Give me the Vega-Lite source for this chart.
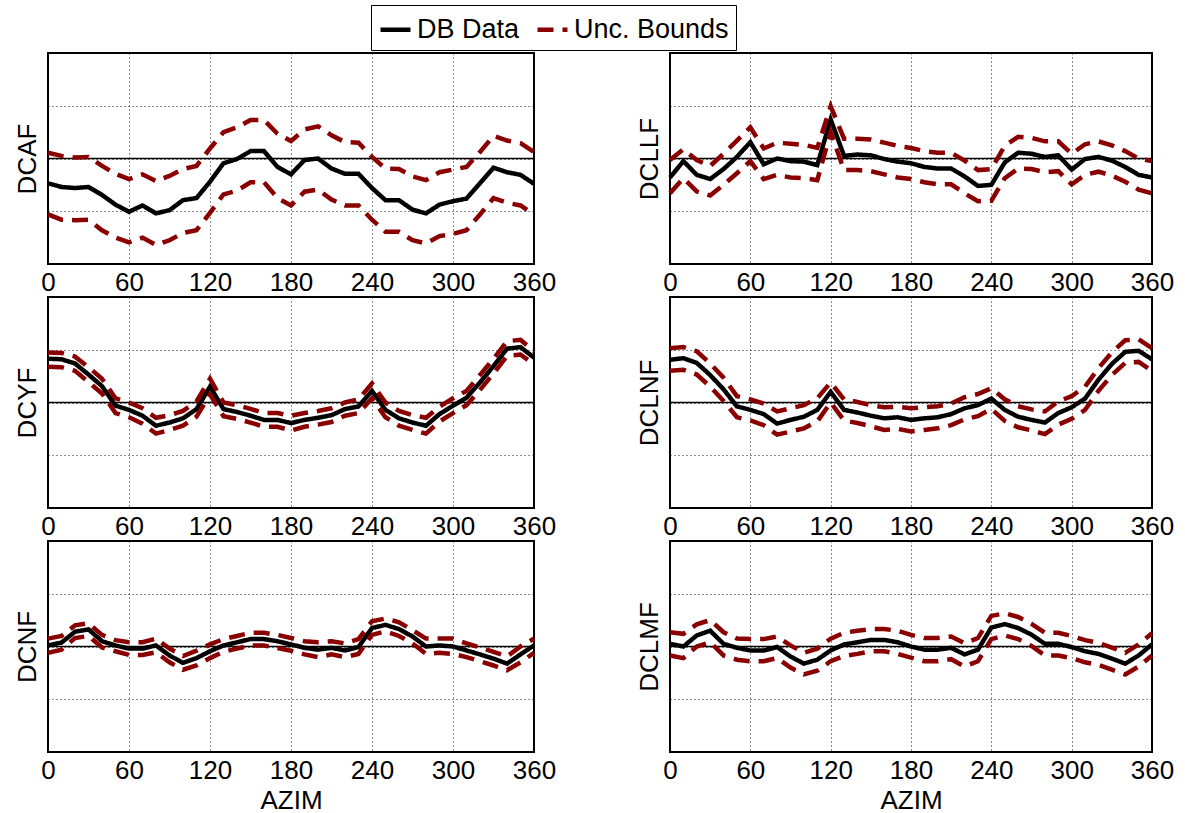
{
"$schema": "https://vega.github.io/schema/vega-lite/v6.json",
"padding": {"left": 13, "top": 4, "right": 5, "bottom": 3},
"data": {"values": [
{"coef":"DCAF","azim":0,"db":-0.47,"up":0.11,"lo":-1.06},
{"coef":"DCAF","azim":10,"db":-0.54,"up":0.05,"lo":-1.16},
{"coef":"DCAF","azim":20,"db":-0.56,"up":0.02,"lo":-1.17},
{"coef":"DCAF","azim":30,"db":-0.54,"up":0.03,"lo":-1.16},
{"coef":"DCAF","azim":40,"db":-0.69,"up":-0.14,"lo":-1.36},
{"coef":"DCAF","azim":50,"db":-0.875,"up":-0.29,"lo":-1.5},
{"coef":"DCAF","azim":60,"db":-1.01,"up":-0.39,"lo":-1.59},
{"coef":"DCAF","azim":70,"db":-0.89,"up":-0.3,"lo":-1.5},
{"coef":"DCAF","azim":80,"db":-1.04,"up":-0.43,"lo":-1.64},
{"coef":"DCAF","azim":90,"db":-0.98,"up":-0.33,"lo":-1.55},
{"coef":"DCAF","azim":100,"db":-0.79,"up":-0.2,"lo":-1.41},
{"coef":"DCAF","azim":110,"db":-0.75,"up":-0.14,"lo":-1.36},
{"coef":"DCAF","azim":120,"db":-0.44,"up":0.19,"lo":-1.03},
{"coef":"DCAF","azim":130,"db":-0.09,"up":0.5,"lo":-0.68},
{"coef":"DCAF","azim":140,"db":-0.01,"up":0.59,"lo":-0.61},
{"coef":"DCAF","azim":150,"db":0.14,"up":0.73,"lo":-0.45},
{"coef":"DCAF","azim":160,"db":0.14,"up":0.73,"lo":-0.45},
{"coef":"DCAF","azim":170,"db":-0.16,"up":0.47,"lo":-0.75},
{"coef":"DCAF","azim":180,"db":-0.3,"up":0.33,"lo":-0.89},
{"coef":"DCAF","azim":190,"db":-0.03,"up":0.55,"lo":-0.63},
{"coef":"DCAF","azim":200,"db":0.0,"up":0.61,"lo":-0.59},
{"coef":"DCAF","azim":210,"db":-0.19,"up":0.44,"lo":-0.78},
{"coef":"DCAF","azim":220,"db":-0.29,"up":0.31,"lo":-0.89},
{"coef":"DCAF","azim":230,"db":-0.29,"up":0.3,"lo":-0.89},
{"coef":"DCAF","azim":240,"db":-0.56,"up":0.03,"lo":-1.16},
{"coef":"DCAF","azim":250,"db":-0.79,"up":-0.19,"lo":-1.39},
{"coef":"DCAF","azim":260,"db":-0.79,"up":-0.2,"lo":-1.39},
{"coef":"DCAF","azim":270,"db":-0.97,"up":-0.34,"lo":-1.55},
{"coef":"DCAF","azim":280,"db":-1.04,"up":-0.41,"lo":-1.61},
{"coef":"DCAF","azim":290,"db":-0.875,"up":-0.26,"lo":-1.47},
{"coef":"DCAF","azim":300,"db":-0.81,"up":-0.21,"lo":-1.43},
{"coef":"DCAF","azim":310,"db":-0.76,"up":-0.16,"lo":-1.36},
{"coef":"DCAF","azim":320,"db":-0.47,"up":0.125,"lo":-1.06},
{"coef":"DCAF","azim":330,"db":-0.175,"up":0.43,"lo":-0.75},
{"coef":"DCAF","azim":340,"db":-0.26,"up":0.34,"lo":-0.84},
{"coef":"DCAF","azim":350,"db":-0.31,"up":0.29,"lo":-0.89},
{"coef":"DCAF","azim":360,"db":-0.48,"up":0.125,"lo":-1.06},
{"coef":"DCLLF","azim":0,"db":-0.36,"up":-0.03,"lo":-0.66},
{"coef":"DCLLF","azim":10,"db":-0.05,"up":0.175,"lo":-0.375},
{"coef":"DCLLF","azim":20,"db":-0.31,"up":-0.03,"lo":-0.625},
{"coef":"DCLLF","azim":30,"db":-0.39,"up":-0.14,"lo":-0.7},
{"coef":"DCLLF","azim":40,"db":-0.2,"up":0.09,"lo":-0.5},
{"coef":"DCLLF","azim":50,"db":0.03,"up":0.34,"lo":-0.28},
{"coef":"DCLLF","azim":60,"db":0.31,"up":0.59,"lo":-0.05},
{"coef":"DCLLF","azim":70,"db":-0.11,"up":0.19,"lo":-0.39},
{"coef":"DCLLF","azim":80,"db":0.0,"up":0.3,"lo":-0.31},
{"coef":"DCLLF","azim":90,"db":-0.05,"up":0.28,"lo":-0.36},
{"coef":"DCLLF","azim":100,"db":-0.06,"up":0.26,"lo":-0.375},
{"coef":"DCLLF","azim":110,"db":-0.125,"up":0.2,"lo":-0.41},
{"coef":"DCLLF","azim":120,"db":0.74,"up":0.99,"lo":0.5},
{"coef":"DCLLF","azim":130,"db":0.05,"up":0.375,"lo":-0.22},
{"coef":"DCLLF","azim":140,"db":0.075,"up":0.375,"lo":-0.22},
{"coef":"DCLLF","azim":150,"db":0.06,"up":0.36,"lo":-0.24},
{"coef":"DCLLF","azim":160,"db":-0.01,"up":0.3,"lo":-0.3},
{"coef":"DCLLF","azim":170,"db":-0.06,"up":0.24,"lo":-0.36},
{"coef":"DCLLF","azim":180,"db":-0.09,"up":0.2,"lo":-0.39},
{"coef":"DCLLF","azim":190,"db":-0.16,"up":0.14,"lo":-0.45},
{"coef":"DCLLF","azim":200,"db":-0.19,"up":0.11,"lo":-0.49},
{"coef":"DCLLF","azim":210,"db":-0.19,"up":0.11,"lo":-0.49},
{"coef":"DCLLF","azim":220,"db":-0.34,"up":-0.04,"lo":-0.66},
{"coef":"DCLLF","azim":230,"db":-0.52,"up":-0.22,"lo":-0.81},
{"coef":"DCLLF","azim":240,"db":-0.5,"up":-0.2,"lo":-0.8},
{"coef":"DCLLF","azim":250,"db":-0.075,"up":0.24,"lo":-0.375},
{"coef":"DCLLF","azim":260,"db":0.11,"up":0.41,"lo":-0.19},
{"coef":"DCLLF","azim":270,"db":0.09,"up":0.39,"lo":-0.2},
{"coef":"DCLLF","azim":280,"db":0.03,"up":0.325,"lo":-0.26},
{"coef":"DCLLF","azim":290,"db":0.06,"up":0.325,"lo":-0.24},
{"coef":"DCLLF","azim":300,"db":-0.21,"up":0.09,"lo":-0.49},
{"coef":"DCLLF","azim":310,"db":-0.01,"up":0.27,"lo":-0.31},
{"coef":"DCLLF","azim":320,"db":0.03,"up":0.325,"lo":-0.25},
{"coef":"DCLLF","azim":330,"db":-0.04,"up":0.25,"lo":-0.325},
{"coef":"DCLLF","azim":340,"db":-0.16,"up":0.14,"lo":-0.44},
{"coef":"DCLLF","azim":350,"db":-0.31,"up":0.0,"lo":-0.59},
{"coef":"DCLLF","azim":360,"db":-0.36,"up":-0.05,"lo":-0.66},
{"coef":"DCYF","azim":0,"db":0.83,"up":0.95,"lo":0.68},
{"coef":"DCYF","azim":10,"db":0.82,"up":0.94,"lo":0.67},
{"coef":"DCYF","azim":20,"db":0.74,"up":0.87,"lo":0.6},
{"coef":"DCYF","azim":30,"db":0.53,"up":0.67,"lo":0.39},
{"coef":"DCYF","azim":40,"db":0.31,"up":0.45,"lo":0.17},
{"coef":"DCYF","azim":50,"db":-0.06,"up":0.08,"lo":-0.2},
{"coef":"DCYF","azim":60,"db":-0.14,"up":0.0,"lo":-0.28},
{"coef":"DCYF","azim":70,"db":-0.25,"up":-0.11,"lo":-0.4},
{"coef":"DCYF","azim":80,"db":-0.44,"up":-0.29,"lo":-0.59},
{"coef":"DCYF","azim":90,"db":-0.38,"up":-0.24,"lo":-0.52},
{"coef":"DCYF","azim":100,"db":-0.3,"up":-0.16,"lo":-0.44},
{"coef":"DCYF","azim":110,"db":-0.125,"up":0.02,"lo":-0.27},
{"coef":"DCYF","azim":120,"db":0.3,"up":0.45,"lo":0.15},
{"coef":"DCYF","azim":130,"db":-0.125,"up":0.0,"lo":-0.26},
{"coef":"DCYF","azim":140,"db":-0.18,"up":-0.05,"lo":-0.31},
{"coef":"DCYF","azim":150,"db":-0.25,"up":-0.12,"lo":-0.38},
{"coef":"DCYF","azim":160,"db":-0.33,"up":-0.2,"lo":-0.46},
{"coef":"DCYF","azim":170,"db":-0.33,"up":-0.2,"lo":-0.46},
{"coef":"DCYF","azim":180,"db":-0.39,"up":-0.25,"lo":-0.53},
{"coef":"DCYF","azim":190,"db":-0.33,"up":-0.2,"lo":-0.46},
{"coef":"DCYF","azim":200,"db":-0.29,"up":-0.16,"lo":-0.42},
{"coef":"DCYF","azim":210,"db":-0.24,"up":-0.11,"lo":-0.37},
{"coef":"DCYF","azim":220,"db":-0.125,"up":0.0,"lo":-0.25},
{"coef":"DCYF","azim":230,"db":-0.075,"up":0.06,"lo":-0.2},
{"coef":"DCYF","azim":240,"db":0.22,"up":0.36,"lo":0.08},
{"coef":"DCYF","azim":250,"db":-0.14,"up":0.0,"lo":-0.28},
{"coef":"DCYF","azim":260,"db":-0.3,"up":-0.16,"lo":-0.44},
{"coef":"DCYF","azim":270,"db":-0.38,"up":-0.24,"lo":-0.52},
{"coef":"DCYF","azim":280,"db":-0.44,"up":-0.29,"lo":-0.59},
{"coef":"DCYF","azim":290,"db":-0.22,"up":-0.08,"lo":-0.36},
{"coef":"DCYF","azim":300,"db":-0.06,"up":0.08,"lo":-0.2},
{"coef":"DCYF","azim":310,"db":0.09,"up":0.22,"lo":-0.05},
{"coef":"DCYF","azim":320,"db":0.38,"up":0.52,"lo":0.24},
{"coef":"DCYF","azim":330,"db":0.69,"up":0.83,"lo":0.55},
{"coef":"DCYF","azim":340,"db":1.02,"up":1.16,"lo":0.88},
{"coef":"DCYF","azim":350,"db":1.05,"up":1.19,"lo":0.91},
{"coef":"DCYF","azim":360,"db":0.85,"up":0.97,"lo":0.72},
{"coef":"DCLNF","azim":0,"db":0.81,"up":1.03,"lo":0.6},
{"coef":"DCLNF","azim":10,"db":0.84,"up":1.05,"lo":0.62},
{"coef":"DCLNF","azim":20,"db":0.75,"up":0.97,"lo":0.53},
{"coef":"DCLNF","azim":30,"db":0.52,"up":0.74,"lo":0.3},
{"coef":"DCLNF","azim":40,"db":0.25,"up":0.47,"lo":0.03},
{"coef":"DCLNF","azim":50,"db":-0.075,"up":0.12,"lo":-0.28},
{"coef":"DCLNF","azim":60,"db":-0.14,"up":0.06,"lo":-0.34},
{"coef":"DCLNF","azim":70,"db":-0.22,"up":-0.02,"lo":-0.43},
{"coef":"DCLNF","azim":80,"db":-0.4,"up":-0.17,"lo":-0.61},
{"coef":"DCLNF","azim":90,"db":-0.33,"up":-0.11,"lo":-0.55},
{"coef":"DCLNF","azim":100,"db":-0.27,"up":-0.05,"lo":-0.49},
{"coef":"DCLNF","azim":110,"db":-0.14,"up":0.08,"lo":-0.36},
{"coef":"DCLNF","azim":120,"db":0.2,"up":0.38,"lo":0.0},
{"coef":"DCLNF","azim":130,"db":-0.14,"up":0.06,"lo":-0.34},
{"coef":"DCLNF","azim":140,"db":-0.19,"up":0.01,"lo":-0.39},
{"coef":"DCLNF","azim":150,"db":-0.25,"up":-0.05,"lo":-0.45},
{"coef":"DCLNF","azim":160,"db":-0.3,"up":-0.09,"lo":-0.52},
{"coef":"DCLNF","azim":170,"db":-0.28,"up":-0.08,"lo":-0.5},
{"coef":"DCLNF","azim":180,"db":-0.33,"up":-0.11,"lo":-0.55},
{"coef":"DCLNF","azim":190,"db":-0.3,"up":-0.09,"lo":-0.52},
{"coef":"DCLNF","azim":200,"db":-0.28,"up":-0.07,"lo":-0.49},
{"coef":"DCLNF","azim":210,"db":-0.22,"up":-0.02,"lo":-0.43},
{"coef":"DCLNF","azim":220,"db":-0.11,"up":0.1,"lo":-0.32},
{"coef":"DCLNF","azim":230,"db":-0.05,"up":0.16,"lo":-0.26},
{"coef":"DCLNF","azim":240,"db":0.075,"up":0.27,"lo":-0.12},
{"coef":"DCLNF","azim":250,"db":-0.14,"up":0.06,"lo":-0.35},
{"coef":"DCLNF","azim":260,"db":-0.27,"up":-0.07,"lo":-0.47},
{"coef":"DCLNF","azim":270,"db":-0.33,"up":-0.13,"lo":-0.53},
{"coef":"DCLNF","azim":280,"db":-0.38,"up":-0.17,"lo":-0.6},
{"coef":"DCLNF","azim":290,"db":-0.2,"up":0.02,"lo":-0.42},
{"coef":"DCLNF","azim":300,"db":-0.09,"up":0.12,"lo":-0.31},
{"coef":"DCLNF","azim":310,"db":0.075,"up":0.3,"lo":-0.14},
{"coef":"DCLNF","azim":320,"db":0.43,"up":0.65,"lo":0.22},
{"coef":"DCLNF","azim":330,"db":0.73,"up":0.95,"lo":0.52},
{"coef":"DCLNF","azim":340,"db":0.96,"up":1.18,"lo":0.75},
{"coef":"DCLNF","azim":350,"db":0.98,"up":1.2,"lo":0.77},
{"coef":"DCLNF","azim":360,"db":0.82,"up":1.03,"lo":0.6},
{"coef":"DCNF","azim":0,"db":0.02,"up":0.15,"lo":-0.12},
{"coef":"DCNF","azim":10,"db":0.075,"up":0.2,"lo":-0.06},
{"coef":"DCNF","azim":20,"db":0.28,"up":0.4,"lo":0.16},
{"coef":"DCNF","azim":30,"db":0.325,"up":0.44,"lo":0.2},
{"coef":"DCNF","azim":40,"db":0.1,"up":0.22,"lo":-0.02},
{"coef":"DCNF","azim":50,"db":0.02,"up":0.12,"lo":-0.09},
{"coef":"DCNF","azim":60,"db":-0.04,"up":0.08,"lo":-0.16},
{"coef":"DCNF","azim":70,"db":-0.04,"up":0.08,"lo":-0.16},
{"coef":"DCNF","azim":80,"db":0.02,"up":0.15,"lo":-0.11},
{"coef":"DCNF","azim":90,"db":-0.17,"up":-0.04,"lo":-0.3},
{"coef":"DCNF","azim":100,"db":-0.31,"up":-0.18,"lo":-0.44},
{"coef":"DCNF","azim":110,"db":-0.22,"up":-0.08,"lo":-0.36},
{"coef":"DCNF","azim":120,"db":-0.09,"up":0.04,"lo":-0.22},
{"coef":"DCNF","azim":130,"db":0.02,"up":0.14,"lo":-0.1},
{"coef":"DCNF","azim":140,"db":0.08,"up":0.2,"lo":-0.04},
{"coef":"DCNF","azim":150,"db":0.14,"up":0.26,"lo":0.02},
{"coef":"DCNF","azim":160,"db":0.14,"up":0.26,"lo":0.02},
{"coef":"DCNF","azim":170,"db":0.1,"up":0.22,"lo":-0.03},
{"coef":"DCNF","azim":180,"db":0.04,"up":0.16,"lo":-0.08},
{"coef":"DCNF","azim":190,"db":-0.025,"up":0.1,"lo":-0.15},
{"coef":"DCNF","azim":200,"db":-0.06,"up":0.08,"lo":-0.2},
{"coef":"DCNF","azim":210,"db":-0.025,"up":0.1,"lo":-0.15},
{"coef":"DCNF","azim":220,"db":-0.075,"up":0.06,"lo":-0.2},
{"coef":"DCNF","azim":230,"db":-0.01,"up":0.14,"lo":-0.14},
{"coef":"DCNF","azim":240,"db":0.35,"up":0.48,"lo":0.22},
{"coef":"DCNF","azim":250,"db":0.41,"up":0.53,"lo":0.29},
{"coef":"DCNF","azim":260,"db":0.33,"up":0.46,"lo":0.2},
{"coef":"DCNF","azim":270,"db":0.19,"up":0.31,"lo":0.06},
{"coef":"DCNF","azim":280,"db":0.0,"up":0.15,"lo":-0.14},
{"coef":"DCNF","azim":290,"db":0.02,"up":0.15,"lo":-0.12},
{"coef":"DCNF","azim":300,"db":0.0,"up":0.15,"lo":-0.14},
{"coef":"DCNF","azim":310,"db":-0.075,"up":0.06,"lo":-0.2},
{"coef":"DCNF","azim":320,"db":-0.15,"up":-0.02,"lo":-0.28},
{"coef":"DCNF","azim":330,"db":-0.23,"up":-0.1,"lo":-0.36},
{"coef":"DCNF","azim":340,"db":-0.325,"up":-0.19,"lo":-0.45},
{"coef":"DCNF","azim":350,"db":-0.15,"up":0.0,"lo":-0.3},
{"coef":"DCNF","azim":360,"db":0.02,"up":0.15,"lo":-0.12},
{"coef":"DCLMF","azim":0,"db":0.05,"up":0.27,"lo":-0.17},
{"coef":"DCLMF","azim":10,"db":0.0,"up":0.24,"lo":-0.22},
{"coef":"DCLMF","azim":20,"db":0.21,"up":0.42,"lo":0.0},
{"coef":"DCLMF","azim":30,"db":0.3,"up":0.5,"lo":0.08},
{"coef":"DCLMF","azim":40,"db":0.05,"up":0.27,"lo":-0.17},
{"coef":"DCLMF","azim":50,"db":-0.025,"up":0.15,"lo":-0.25},
{"coef":"DCLMF","azim":60,"db":-0.075,"up":0.14,"lo":-0.28},
{"coef":"DCLMF","azim":70,"db":-0.075,"up":0.14,"lo":-0.28},
{"coef":"DCLMF","azim":80,"db":-0.01,"up":0.19,"lo":-0.22},
{"coef":"DCLMF","azim":90,"db":-0.19,"up":0.02,"lo":-0.4},
{"coef":"DCLMF","azim":100,"db":-0.325,"up":-0.12,"lo":-0.53},
{"coef":"DCLMF","azim":110,"db":-0.25,"up":-0.04,"lo":-0.46},
{"coef":"DCLMF","azim":120,"db":-0.075,"up":0.15,"lo":-0.28},
{"coef":"DCLMF","azim":130,"db":0.04,"up":0.26,"lo":-0.18},
{"coef":"DCLMF","azim":140,"db":0.08,"up":0.3,"lo":-0.14},
{"coef":"DCLMF","azim":150,"db":0.125,"up":0.33,"lo":-0.09},
{"coef":"DCLMF","azim":160,"db":0.125,"up":0.33,"lo":-0.09},
{"coef":"DCLMF","azim":170,"db":0.08,"up":0.3,"lo":-0.14},
{"coef":"DCLMF","azim":180,"db":0.0,"up":0.22,"lo":-0.21},
{"coef":"DCLMF","azim":190,"db":-0.06,"up":0.16,"lo":-0.28},
{"coef":"DCLMF","azim":200,"db":-0.06,"up":0.16,"lo":-0.28},
{"coef":"DCLMF","azim":210,"db":-0.025,"up":0.19,"lo":-0.24},
{"coef":"DCLMF","azim":220,"db":-0.15,"up":0.06,"lo":-0.38},
{"coef":"DCLMF","azim":230,"db":-0.06,"up":0.16,"lo":-0.28},
{"coef":"DCLMF","azim":240,"db":0.36,"up":0.58,"lo":0.14},
{"coef":"DCLMF","azim":250,"db":0.425,"up":0.63,"lo":0.21},
{"coef":"DCLMF","azim":260,"db":0.35,"up":0.56,"lo":0.14},
{"coef":"DCLMF","azim":270,"db":0.225,"up":0.43,"lo":0.01},
{"coef":"DCLMF","azim":280,"db":0.05,"up":0.26,"lo":-0.17},
{"coef":"DCLMF","azim":290,"db":0.05,"up":0.26,"lo":-0.17},
{"coef":"DCLMF","azim":300,"db":-0.01,"up":0.2,"lo":-0.22},
{"coef":"DCLMF","azim":310,"db":-0.09,"up":0.12,"lo":-0.3},
{"coef":"DCLMF","azim":320,"db":-0.14,"up":0.07,"lo":-0.35},
{"coef":"DCLMF","azim":330,"db":-0.23,"up":-0.02,"lo":-0.44},
{"coef":"DCLMF","azim":340,"db":-0.325,"up":-0.12,"lo":-0.53},
{"coef":"DCLMF","azim":350,"db":-0.17,"up":0.04,"lo":-0.38},
{"coef":"DCLMF","azim":360,"db":0.04,"up":0.25,"lo":-0.17}
]},
"config": {
  "font": "Liberation Sans",
  "view": {"stroke": "black", "strokeWidth": 2},
  "axis": {"grid": true, "gridColor": "black", "gridDash": [1, 3], "gridWidth": 1, "gridOpacity": 0.9, "domain": false, "ticks": false, "labelFontSize": 26, "labelColor": "black", "labelPadding": 5, "labelFlush": false, "labelOverlap": false, "labelFont": "Liberation Sans", "titleFont": "Liberation Sans", "titleFontSize": 26, "titleFontWeight": "normal", "titleColor": "black"},
  "axisX": {"titlePadding": 4}
},
"bounds": "flush",
"columns": 2,
"spacing": {"row": 33, "column": 136},
"concat": [
  {"width": 486, "height": 211, "layer": [
   {"transform": [{"filter": "datum.coef === 'DCAF'"}, {"aggregate": [{"op": "count", "as": "n"}]}], "mark": {"type": "rule", "color": "black", "strokeWidth": 1.5}, "encoding": {"y": {"datum": 0, "type": "quantitative", "scale": {"domain": [-2, 2], "nice": false, "zero": false}, "axis": {"values": [-1, 0, 1], "labels": false, "title": "DCAF", "titlePadding": 8}}}},
   {"transform": [{"filter": "datum.coef === 'DCAF'"}, {"fold": ["db", "up", "lo"], "as": ["series", "val"]}], "mark": {"type": "line", "strokeWidth": 4.5, "strokeCap": "butt"}, "encoding": {
     "x": {"field": "azim", "type": "quantitative", "scale": {"domain": [0, 360], "nice": false}, "axis": {"values": [0, 60, 120, 180, 240, 300, 360], "title": null}},
     "y": {"field": "val", "type": "quantitative", "scale": {"domain": [-2, 2], "nice": false, "zero": false}, "axis": {"values": [-1, 0, 1], "labels": false, "title": "DCAF", "titlePadding": 8}},
     "color": {"field": "series", "type": "nominal", "scale": {"domain": ["db", "up", "lo"], "range": ["black", "#8a0000", "#8a0000"]}, "legend": {"title": null, "orient": "none", "legendX": 323, "legendY": -48, "direction": "horizontal", "values": ["db", "up"], "labelExpr": "datum.value === 'db' ? 'DB Data' : 'Unc. Bounds'", "symbolType": "stroke", "symbolSize": 900, "symbolStrokeWidth": 4.5, "labelFontSize": 27, "labelColor": "black", "labelOffset": 4, "columnPadding": 8, "padding": 7, "strokeColor": "black", "fillColor": "white", "labelLimit": 400}},
     "strokeDash": {"field": "series", "type": "nominal", "scale": {"domain": ["db", "up", "lo"], "range": [[1, 0], [16, 9], [16, 9]]}, "legend": {"title": null, "orient": "none", "legendX": 323, "legendY": -48, "direction": "horizontal", "values": ["db", "up"], "labelExpr": "datum.value === 'db' ? 'DB Data' : 'Unc. Bounds'", "symbolType": "stroke", "symbolSize": 900, "symbolStrokeWidth": 4.5, "labelFontSize": 27, "labelColor": "black", "labelOffset": 4, "columnPadding": 8, "padding": 7, "strokeColor": "black", "fillColor": "white", "labelLimit": 400}}
   }}
  ]},
  {"width": 482, "height": 211, "layer": [
   {"transform": [{"filter": "datum.coef === 'DCLLF'"}, {"aggregate": [{"op": "count", "as": "n"}]}], "mark": {"type": "rule", "color": "black", "strokeWidth": 1.5}, "encoding": {"y": {"datum": 0, "type": "quantitative", "scale": {"domain": [-2, 2], "nice": false, "zero": false}, "axis": {"values": [-1, 0, 1], "labels": false, "title": "DCLLF", "titlePadding": 8}}}},
   {"transform": [{"filter": "datum.coef === 'DCLLF'"}, {"fold": ["db", "up", "lo"], "as": ["series", "val"]}], "mark": {"type": "line", "strokeWidth": 4.5, "strokeCap": "butt"}, "encoding": {
     "x": {"field": "azim", "type": "quantitative", "scale": {"domain": [0, 360], "nice": false}, "axis": {"values": [0, 60, 120, 180, 240, 300, 360], "title": null}},
     "y": {"field": "val", "type": "quantitative", "scale": {"domain": [-2, 2], "nice": false, "zero": false}, "axis": {"values": [-1, 0, 1], "labels": false, "title": "DCLLF", "titlePadding": 8}},
     "color": {"field": "series", "type": "nominal", "scale": {"domain": ["db", "up", "lo"], "range": ["black", "#8a0000", "#8a0000"]}, "legend": null},
     "strokeDash": {"field": "series", "type": "nominal", "scale": {"domain": ["db", "up", "lo"], "range": [[1, 0], [16, 9], [16, 9]]}, "legend": null}
   }}
  ]},
  {"width": 486, "height": 211, "layer": [
   {"transform": [{"filter": "datum.coef === 'DCYF'"}, {"aggregate": [{"op": "count", "as": "n"}]}], "mark": {"type": "rule", "color": "black", "strokeWidth": 1.5}, "encoding": {"y": {"datum": 0, "type": "quantitative", "scale": {"domain": [-2, 2], "nice": false, "zero": false}, "axis": {"values": [-1, 0, 1], "labels": false, "title": "DCYF", "titlePadding": 8}}}},
   {"transform": [{"filter": "datum.coef === 'DCYF'"}, {"fold": ["db", "up", "lo"], "as": ["series", "val"]}], "mark": {"type": "line", "strokeWidth": 4.5, "strokeCap": "butt"}, "encoding": {
     "x": {"field": "azim", "type": "quantitative", "scale": {"domain": [0, 360], "nice": false}, "axis": {"values": [0, 60, 120, 180, 240, 300, 360], "title": null}},
     "y": {"field": "val", "type": "quantitative", "scale": {"domain": [-2, 2], "nice": false, "zero": false}, "axis": {"values": [-1, 0, 1], "labels": false, "title": "DCYF", "titlePadding": 8}},
     "color": {"field": "series", "type": "nominal", "scale": {"domain": ["db", "up", "lo"], "range": ["black", "#8a0000", "#8a0000"]}, "legend": null},
     "strokeDash": {"field": "series", "type": "nominal", "scale": {"domain": ["db", "up", "lo"], "range": [[1, 0], [16, 9], [16, 9]]}, "legend": null}
   }}
  ]},
  {"width": 482, "height": 211, "layer": [
   {"transform": [{"filter": "datum.coef === 'DCLNF'"}, {"aggregate": [{"op": "count", "as": "n"}]}], "mark": {"type": "rule", "color": "black", "strokeWidth": 1.5}, "encoding": {"y": {"datum": 0, "type": "quantitative", "scale": {"domain": [-2, 2], "nice": false, "zero": false}, "axis": {"values": [-1, 0, 1], "labels": false, "title": "DCLNF", "titlePadding": 8}}}},
   {"transform": [{"filter": "datum.coef === 'DCLNF'"}, {"fold": ["db", "up", "lo"], "as": ["series", "val"]}], "mark": {"type": "line", "strokeWidth": 4.5, "strokeCap": "butt"}, "encoding": {
     "x": {"field": "azim", "type": "quantitative", "scale": {"domain": [0, 360], "nice": false}, "axis": {"values": [0, 60, 120, 180, 240, 300, 360], "title": null}},
     "y": {"field": "val", "type": "quantitative", "scale": {"domain": [-2, 2], "nice": false, "zero": false}, "axis": {"values": [-1, 0, 1], "labels": false, "title": "DCLNF", "titlePadding": 8}},
     "color": {"field": "series", "type": "nominal", "scale": {"domain": ["db", "up", "lo"], "range": ["black", "#8a0000", "#8a0000"]}, "legend": null},
     "strokeDash": {"field": "series", "type": "nominal", "scale": {"domain": ["db", "up", "lo"], "range": [[1, 0], [16, 9], [16, 9]]}, "legend": null}
   }}
  ]},
  {"width": 486, "height": 211, "layer": [
   {"transform": [{"filter": "datum.coef === 'DCNF'"}, {"aggregate": [{"op": "count", "as": "n"}]}], "mark": {"type": "rule", "color": "black", "strokeWidth": 1.5}, "encoding": {"y": {"datum": 0, "type": "quantitative", "scale": {"domain": [-2, 2], "nice": false, "zero": false}, "axis": {"values": [-1, 0, 1], "labels": false, "title": "DCNF", "titlePadding": 8}}}},
   {"transform": [{"filter": "datum.coef === 'DCNF'"}, {"fold": ["db", "up", "lo"], "as": ["series", "val"]}], "mark": {"type": "line", "strokeWidth": 4.5, "strokeCap": "butt"}, "encoding": {
     "x": {"field": "azim", "type": "quantitative", "scale": {"domain": [0, 360], "nice": false}, "axis": {"values": [0, 60, 120, 180, 240, 300, 360], "title": "AZIM"}},
     "y": {"field": "val", "type": "quantitative", "scale": {"domain": [-2, 2], "nice": false, "zero": false}, "axis": {"values": [-1, 0, 1], "labels": false, "title": "DCNF", "titlePadding": 8}},
     "color": {"field": "series", "type": "nominal", "scale": {"domain": ["db", "up", "lo"], "range": ["black", "#8a0000", "#8a0000"]}, "legend": null},
     "strokeDash": {"field": "series", "type": "nominal", "scale": {"domain": ["db", "up", "lo"], "range": [[1, 0], [16, 9], [16, 9]]}, "legend": null}
   }}
  ]},
  {"width": 482, "height": 211, "layer": [
   {"transform": [{"filter": "datum.coef === 'DCLMF'"}, {"aggregate": [{"op": "count", "as": "n"}]}], "mark": {"type": "rule", "color": "black", "strokeWidth": 1.5}, "encoding": {"y": {"datum": 0, "type": "quantitative", "scale": {"domain": [-2, 2], "nice": false, "zero": false}, "axis": {"values": [-1, 0, 1], "labels": false, "title": "DCLMF", "titlePadding": 8}}}},
   {"transform": [{"filter": "datum.coef === 'DCLMF'"}, {"fold": ["db", "up", "lo"], "as": ["series", "val"]}], "mark": {"type": "line", "strokeWidth": 4.5, "strokeCap": "butt"}, "encoding": {
     "x": {"field": "azim", "type": "quantitative", "scale": {"domain": [0, 360], "nice": false}, "axis": {"values": [0, 60, 120, 180, 240, 300, 360], "title": "AZIM"}},
     "y": {"field": "val", "type": "quantitative", "scale": {"domain": [-2, 2], "nice": false, "zero": false}, "axis": {"values": [-1, 0, 1], "labels": false, "title": "DCLMF", "titlePadding": 8}},
     "color": {"field": "series", "type": "nominal", "scale": {"domain": ["db", "up", "lo"], "range": ["black", "#8a0000", "#8a0000"]}, "legend": null},
     "strokeDash": {"field": "series", "type": "nominal", "scale": {"domain": ["db", "up", "lo"], "range": [[1, 0], [16, 9], [16, 9]]}, "legend": null}
   }}
  ]}
]
}
